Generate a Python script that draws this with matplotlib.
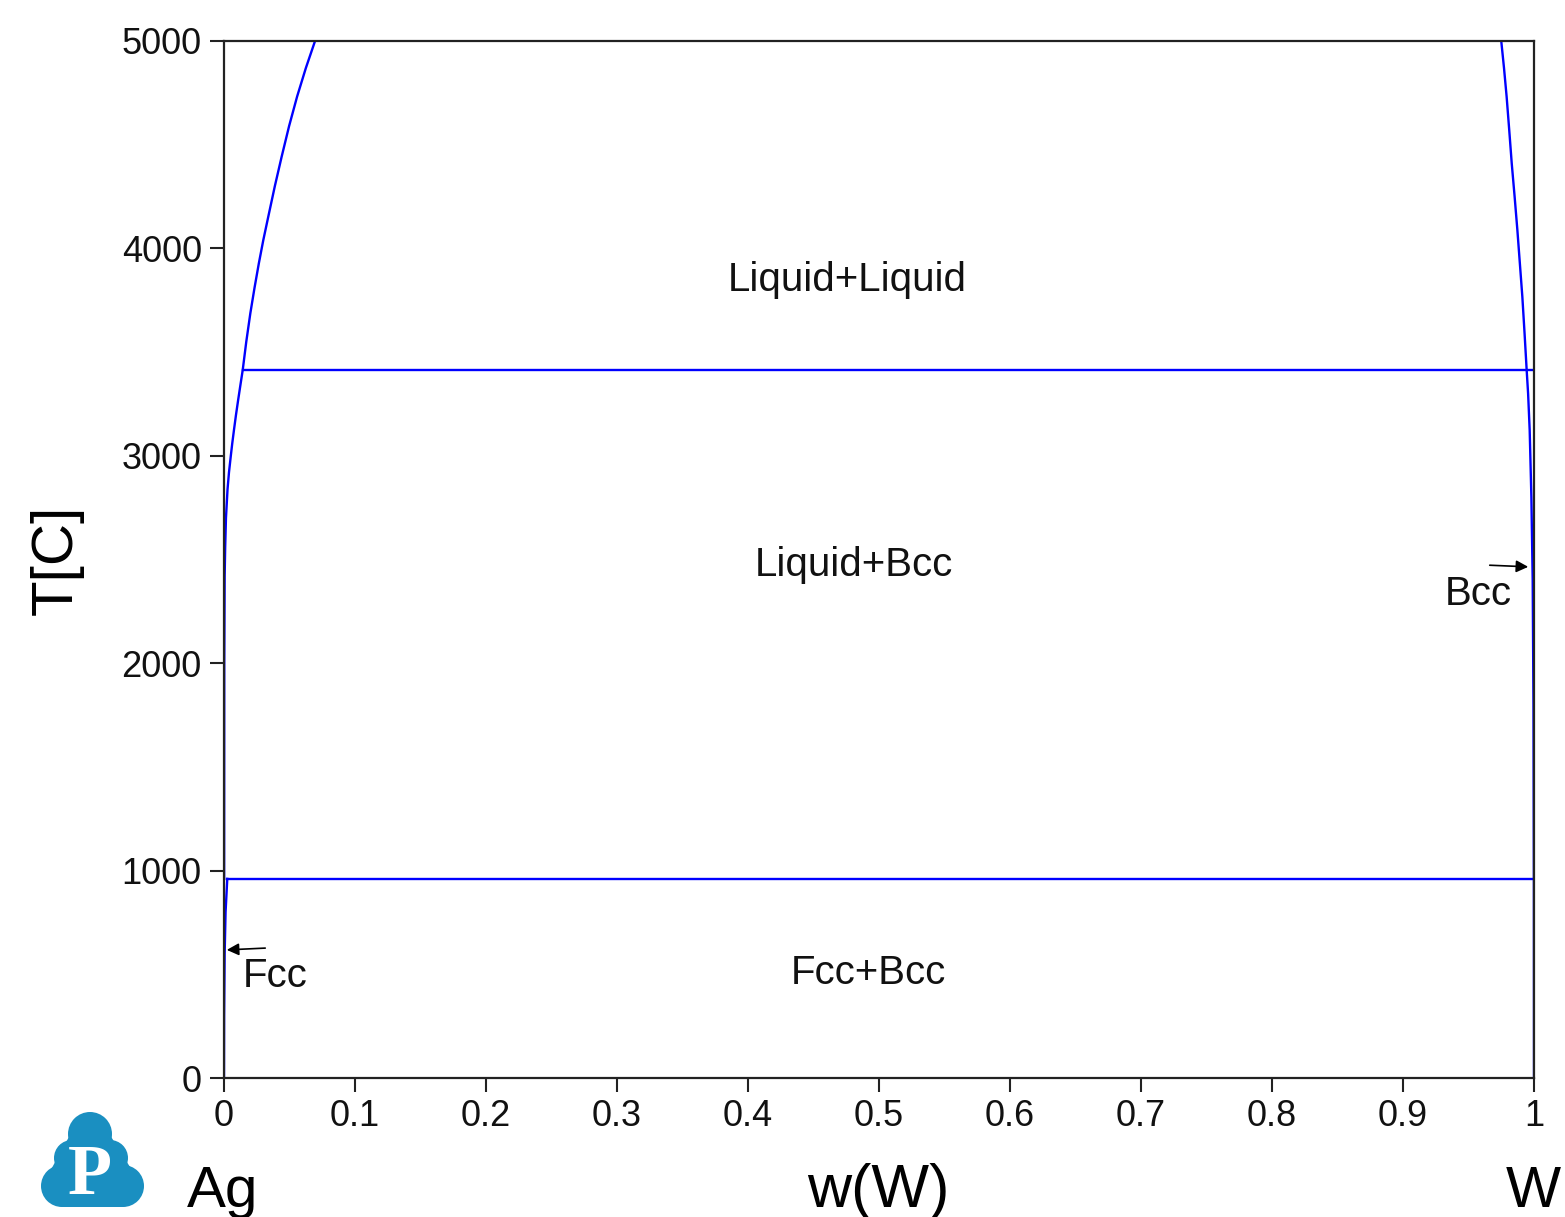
import matplotlib
matplotlib.use('Agg')
import matplotlib.pyplot as plt
from matplotlib.patches import Circle, Polygon

plt.rcParams['font.family'] = ['Liberation Sans', 'DejaVu Sans']

# Ag-rich liquid boundary (miscibility gap + liquidus down to eutectic)
left_liq_x = [0.0695, 0.0625, 0.0558, 0.0497, 0.0440, 0.0388, 0.0338, 0.0300,
              0.0266, 0.0233, 0.0201, 0.0170, 0.0143, 0.0125, 0.0108, 0.0091,
              0.0076, 0.0063, 0.0052, 0.0038, 0.0027, 0.0015, 0.0009, 0.0005,
              0.0002, 0.0001]
left_liq_t = [5000, 4870, 4732, 4590, 4442, 4300, 4153, 4040,
              3928, 3810, 3687, 3550, 3414, 3340, 3269, 3195,
              3124, 3060, 3000, 2920, 2839, 2700, 2559, 2420,
              2000, 960]

# Fcc solvus (Ag side)
fcc_x = [0.0025, 0.0012, 0.0005, 0.0001, 0.0]
fcc_t = [960, 800, 600, 300, 0]

# W-rich liquid boundary + Bcc solvus
right_x = [0.975, 0.9771, 0.9791, 0.9811, 0.9830, 0.9852, 0.9873, 0.9892,
           0.9911, 0.9928, 0.9944, 0.9955, 0.9967, 0.9980, 0.9990, 0.9996,
           0.9999, 1.0]
right_t = [5000, 4870, 4732, 4570, 4410, 4250, 4089, 3928,
           3767, 3590, 3414, 3300, 3124, 2800, 2400, 1800,
           960, 0]

# invariant lines
monotectic_t = 3414
monotectic_x = [0.0143, 0.9990]
eutectic_t = 960
eutectic_x = [0.0025, 0.9995]

region_labels = ['Liquid+Liquid', 'Liquid+Bcc', 'Fcc+Bcc']
region_x = [0.476, 0.4805, 0.4916]
region_t = [3848, 2473, 506]

x_ticks = [0, 0.1, 0.2, 0.3, 0.4, 0.5, 0.6, 0.7, 0.8, 0.9, 1]
x_tick_labels = ['0', '0.1', '0.2', '0.3', '0.4', '0.5', '0.6', '0.7', '0.8', '0.9', '1']
y_ticks = [0, 1000, 2000, 3000, 4000, 5000]

W, H = 1565, 1217
fig = plt.figure(figsize=(W / 100, H / 100), dpi=100)
ax = fig.add_axes([224 / W, 1 - 1078 / H, (1534 - 224) / W, (1078 - 41) / H])

blue = '#0000ff'
lw = 1.7
ax.plot(left_liq_x, left_liq_t, color=blue, lw=lw)
ax.plot(fcc_x, fcc_t, color=blue, lw=lw)
ax.plot(right_x, right_t, color=blue, lw=lw)
ax.plot(monotectic_x, [monotectic_t] * 2, color=blue, lw=lw)
ax.plot(eutectic_x, [eutectic_t] * 2, color=blue, lw=lw)

for lab, x, t in zip(region_labels, region_x, region_t):
    ax.text(x, t, lab, fontsize=29, ha='center', va='center', color='#111111')

# phase arrows
ax.annotate('', xy=(0.0, 617), xytext=(0.0336, 627),
            arrowprops=dict(arrowstyle='-|>', color='black', lw=1.2, mutation_scale=18))
ax.text(0.0145, 492, 'Fcc', fontsize=29, ha='left', va='center', color='#111111')
ax.annotate('', xy=(0.9977, 2464), xytext=(0.9641, 2473),
            arrowprops=dict(arrowstyle='-|>', color='black', lw=1.2, mutation_scale=18))
ax.text(0.983, 2334, 'Bcc', fontsize=29, ha='right', va='center', color='#111111')

ax.set_xlim(0, 1)
ax.set_ylim(0, 5000)
ax.set_xticks(x_ticks)
ax.set_xticklabels(x_tick_labels)
ax.set_yticks(y_ticks)
ax.tick_params(axis='both', direction='out', length=10, width=1.5, labelsize=26,
               color='#222222', labelcolor='#111111')
ax.tick_params(axis='x', pad=5)
ax.tick_params(axis='y', pad=6)
for s in ax.spines.values():
    s.set_color('#222222')
    s.set_linewidth(1.6)

# component / axis labels
fig.text(223 / W, 1 - 1207 / H, 'Ag', fontsize=42, ha='center', va='baseline')
fig.text(878 / W, 1 - 1207 / H, 'w(W)', fontsize=44, ha='center', va='baseline')
fig.text(1533 / W, 1 - 1207 / H, 'W', fontsize=42, ha='center', va='baseline')
fig.text(57 / W, 1 - 560 / H, 'T[C]', fontsize=42, ha='center', va='center', rotation=90)

# logo
lax = fig.add_axes([0, 0, 1, 1], zorder=-1)
lax.set_xlim(0, W)
lax.set_ylim(H, 0)
lax.axis('off')
logo_c = '#1a8fc1'
for cx, cy, r in [(90, 1134, 22), (72, 1158, 18), (110, 1158, 18),
                  (62, 1186, 21), (123, 1186, 21)]:
    lax.add_patch(Circle((cx, cy), r, color=logo_c, lw=0))
lax.add_patch(Polygon([(70, 1135), (110, 1135), (135, 1175), (123, 1207),
                       (62, 1207), (48, 1175)], closed=True, color=logo_c, lw=0))
lax.text(90, 1176, 'P', fontsize=52, fontweight='bold', family='Liberation Serif',
         color='white', ha='center', va='center')

fig.savefig('out.png', dpi=100)
